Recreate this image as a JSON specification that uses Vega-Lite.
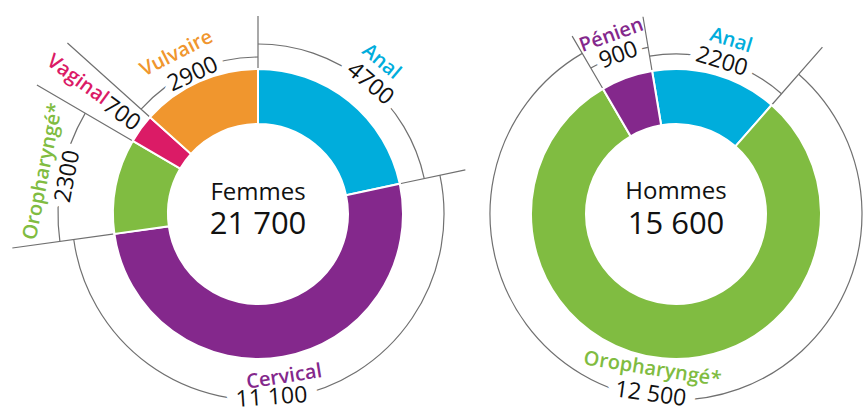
{
  "$schema": "https://vega.github.io/schema/vega-lite/v6.json",
  "padding": {"left": 8, "top": 13, "right": 0, "bottom": 0},
  "spacing": 0,
  "bounds": "flush",
  "config": {"view": {"stroke": null}, "font": "Open Sans", "text": {"font": "Open Sans"}},
  "datasets": {
    "femmes": [
      {"site": "Anal", "value": 4700, "label": "4700", "order": 1},
      {"site": "Cervical", "value": 11100, "label": "11 100", "order": 2},
      {"site": "Oropharyngé*", "value": 2300, "label": "2300", "order": 3},
      {"site": "Vaginal", "value": 700, "label": "700", "order": 4},
      {"site": "Vulvaire", "value": 2900, "label": "2900", "order": 5}
    ],
    "hommes": [
      {"site": "Anal", "value": 2200, "label": "2200", "order": 1},
      {"site": "Oropharyngé*", "value": 12500, "label": "12 500", "order": 2},
      {"site": "Pénien", "value": 900, "label": "900", "order": 3}
    ],
    "totaux": [
      {"groupe": "Femmes", "total": "21 700"},
      {"groupe": "Hommes", "total": "15 600"}
    ]
  },
  "resolve": {"scale": {"theta": "independent", "color": "independent"}},
  "hconcat": [
    {
      "width": 500,
      "height": 398,
      "data": {"name": "femmes"},
      "transform": [
        {"stack": "value", "groupby": [], "sort": [{"field": "order", "order": "ascending"}], "as": ["debut", "fin"]},
        {"fold": ["debut", "fin"], "as": ["bord", "pos"]},
        {"aggregate": [{"op": "min", "field": "pos", "as": "v0"}, {"op": "max", "field": "pos", "as": "v1"}, {"op": "mean", "field": "pos", "as": "mid"}], "groupby": ["site", "label", "order", "value"]}
      ],
      "layer": [
        {"transform": [{"filter": "datum.site === 'Anal'"}], "mark": {"type": "arc", "filled": false, "stroke": "#707070", "strokeWidth": 1.2, "radius": 170, "radius2": 170}, "encoding": {"theta": {"field": "v0", "type": "quantitative", "scale": {"domain": [0, 21700], "range": [0, 6.283185]}}, "theta2": {"field": "v1"}}},
        {"transform": [{"filter": "datum.site === 'Cervical'"}], "mark": {"type": "arc", "filled": false, "stroke": "#707070", "strokeWidth": 1.2, "radius": 186, "radius2": 186}, "encoding": {"theta": {"field": "v0", "type": "quantitative", "scale": {"domain": [0, 21700], "range": [0, 6.283185]}}, "theta2": {"field": "v1"}}},
        {"transform": [{"filter": "datum.site === 'Oropharyngé*'"}], "mark": {"type": "arc", "filled": false, "stroke": "#707070", "strokeWidth": 1.2, "radius": 200, "radius2": 200}, "encoding": {"theta": {"field": "v0", "type": "quantitative", "scale": {"domain": [0, 21700], "range": [0, 6.283185]}}, "theta2": {"field": "v1"}}},
        {"transform": [{"filter": "datum.site === 'Vulvaire'"}], "mark": {"type": "arc", "filled": false, "stroke": "#707070", "strokeWidth": 1.2, "radius": 157, "radius2": 157}, "encoding": {"theta": {"field": "v0", "type": "quantitative", "scale": {"domain": [0, 21700], "range": [0, 6.283185]}}, "theta2": {"field": "v1"}}},
        {"transform": [{"filter": "datum.site === 'Anal'"}], "mark": {"type": "arc", "filled": false, "stroke": "#707070", "strokeWidth": 1.2, "radius": 198, "radius2": 145}, "encoding": {"theta": {"field": "v0", "type": "quantitative", "scale": {"domain": [0, 21700], "range": [0, 6.283185]}}, "theta2": {"field": "v0"}}},
        {"transform": [{"filter": "datum.site === 'Cervical'"}], "mark": {"type": "arc", "filled": false, "stroke": "#707070", "strokeWidth": 1.2, "radius": 212, "radius2": 145}, "encoding": {"theta": {"field": "v0", "type": "quantitative", "scale": {"domain": [0, 21700], "range": [0, 6.283185]}}, "theta2": {"field": "v0"}}},
        {"transform": [{"filter": "datum.site === 'Oropharyngé*'"}], "mark": {"type": "arc", "filled": false, "stroke": "#707070", "strokeWidth": 1.2, "radius": 248, "radius2": 145}, "encoding": {"theta": {"field": "v0", "type": "quantitative", "scale": {"domain": [0, 21700], "range": [0, 6.283185]}}, "theta2": {"field": "v0"}}},
        {"transform": [{"filter": "datum.site === 'Vaginal' || datum.site === 'Vulvaire'"}], "mark": {"type": "arc", "filled": false, "stroke": "#707070", "strokeWidth": 1.2, "radius": 256, "radius2": 145}, "encoding": {"theta": {"field": "v0", "type": "quantitative", "scale": {"domain": [0, 21700], "range": [0, 6.283185]}}, "theta2": {"field": "v0"}}},
        {"transform": [{"filter": "datum.site === 'Anal'"}], "mark": {"type": "text", "radius": 172, "angle": 40, "thetaOffset": 0.03, "fontSize": 23, "color": "white", "stroke": "white", "strokeWidth": 15, "strokeJoin": "round", "align": "center", "baseline": "middle"}, "encoding": {"theta": {"field": "mid", "type": "quantitative", "scale": {"domain": [0, 21700], "range": [0, 6.283185]}}, "text": {"field": "label", "type": "nominal"}}},
        {"transform": [{"filter": "datum.site === 'Cervical'"}], "mark": {"type": "text", "radius": 184, "angle": -4, "thetaOffset": 0.1, "fontSize": 23, "color": "white", "stroke": "white", "strokeWidth": 22, "strokeJoin": "round", "align": "center", "baseline": "middle"}, "encoding": {"theta": {"field": "mid", "type": "quantitative", "scale": {"domain": [0, 21700], "range": [0, 6.283185]}}, "text": {"field": "label", "type": "nominal"}}},
        {"transform": [{"filter": "datum.site === 'Oropharyngé*'"}], "mark": {"type": "text", "radius": 194, "angle": -79, "fontSize": 23, "color": "white", "stroke": "white", "strokeWidth": 15, "strokeJoin": "round", "align": "center", "baseline": "middle"}, "encoding": {"theta": {"field": "mid", "type": "quantitative", "scale": {"domain": [0, 21700], "range": [0, 6.283185]}}, "text": {"field": "label", "type": "nominal"}}},
        {"transform": [{"filter": "datum.site === 'Vulvaire'"}], "mark": {"type": "text", "radius": 154, "angle": -25, "thetaOffset": -0.016, "fontSize": 23, "color": "white", "stroke": "white", "strokeWidth": 15, "strokeJoin": "round", "align": "center", "baseline": "middle"}, "encoding": {"theta": {"field": "mid", "type": "quantitative", "scale": {"domain": [0, 21700], "range": [0, 6.283185]}}, "text": {"field": "label", "type": "nominal"}}},
        {"mark": {"type": "arc", "radius": 145, "radius2": 90, "stroke": "white", "strokeWidth": 2}, "encoding": {"theta": {"field": "v0", "type": "quantitative", "scale": {"domain": [0, 21700], "range": [0, 6.283185]}}, "theta2": {"field": "v1"}, "color": {"field": "site", "type": "nominal", "legend": null, "scale": {"domain": ["Anal", "Cervical", "Oropharyngé*", "Vaginal", "Vulvaire"], "range": ["#00ADDC", "#84288C", "#80BC41", "#DB1B66", "#F0962E"]}}}},
        {"transform": [{"filter": "datum.site === 'Anal'"}], "mark": {"type": "text", "radius": 172, "angle": 40, "thetaOffset": 0.03, "fontSize": 23, "color": "#111111", "align": "center", "baseline": "middle"}, "encoding": {"theta": {"field": "mid", "type": "quantitative", "scale": {"domain": [0, 21700], "range": [0, 6.283185]}}, "text": {"field": "label", "type": "nominal"}}},
        {"transform": [{"filter": "datum.site === 'Cervical'"}], "mark": {"type": "text", "radius": 184, "angle": -4, "thetaOffset": 0.1, "fontSize": 23, "color": "#111111", "align": "center", "baseline": "middle"}, "encoding": {"theta": {"field": "mid", "type": "quantitative", "scale": {"domain": [0, 21700], "range": [0, 6.283185]}}, "text": {"field": "label", "type": "nominal"}}},
        {"transform": [{"filter": "datum.site === 'Oropharyngé*'"}], "mark": {"type": "text", "radius": 194, "angle": -79, "fontSize": 23, "color": "#111111", "align": "center", "baseline": "middle"}, "encoding": {"theta": {"field": "mid", "type": "quantitative", "scale": {"domain": [0, 21700], "range": [0, 6.283185]}}, "text": {"field": "label", "type": "nominal"}}},
        {"transform": [{"filter": "datum.site === 'Vaginal'"}], "mark": {"type": "text", "radius": 169, "angle": 36, "fontSize": 23, "color": "#111111", "align": "center", "baseline": "middle"}, "encoding": {"theta": {"field": "mid", "type": "quantitative", "scale": {"domain": [0, 21700], "range": [0, 6.283185]}}, "text": {"field": "label", "type": "nominal"}}},
        {"transform": [{"filter": "datum.site === 'Vulvaire'"}], "mark": {"type": "text", "radius": 154, "angle": -25, "thetaOffset": -0.016, "fontSize": 23, "color": "#111111", "align": "center", "baseline": "middle"}, "encoding": {"theta": {"field": "mid", "type": "quantitative", "scale": {"domain": [0, 21700], "range": [0, 6.283185]}}, "text": {"field": "label", "type": "nominal"}}},
        {"transform": [{"filter": "datum.site === 'Anal'"}], "mark": {"type": "text", "radius": 196, "angle": 40, "fontSize": 20, "fontWeight": 600, "color": "#00ADDC", "align": "center", "baseline": "middle"}, "encoding": {"theta": {"field": "mid", "type": "quantitative", "scale": {"domain": [0, 21700], "range": [0, 6.283185]}}, "text": {"field": "site", "type": "nominal"}}},
        {"transform": [{"filter": "datum.site === 'Cervical'"}], "mark": {"type": "text", "radius": 165, "angle": -9, "thetaOffset": 0.015, "fontSize": 20, "fontWeight": 600, "color": "#84288C", "align": "center", "baseline": "middle"}, "encoding": {"theta": {"field": "mid", "type": "quantitative", "scale": {"domain": [0, 21700], "range": [0, 6.283185]}}, "text": {"field": "site", "type": "nominal"}}},
        {"transform": [{"filter": "datum.site === 'Oropharyngé*'"}], "mark": {"type": "text", "radius": 219, "angle": -79, "fontSize": 20, "fontWeight": 600, "color": "#80BC41", "align": "center", "baseline": "middle"}, "encoding": {"theta": {"field": "mid", "type": "quantitative", "scale": {"domain": [0, 21700], "range": [0, 6.283185]}}, "text": {"field": "site", "type": "nominal"}}},
        {"transform": [{"filter": "datum.site === 'Vaginal'"}], "mark": {"type": "text", "radius": 225, "angle": 36, "thetaOffset": 0.01, "fontSize": 20, "fontWeight": 600, "color": "#DB1B66", "align": "center", "baseline": "middle"}, "encoding": {"theta": {"field": "mid", "type": "quantitative", "scale": {"domain": [0, 21700], "range": [0, 6.283185]}}, "text": {"field": "site", "type": "nominal"}}},
        {"transform": [{"filter": "datum.site === 'Vulvaire'"}], "mark": {"type": "text", "radius": 180, "angle": -27, "thetaOffset": -0.05, "fontSize": 20, "fontWeight": 600, "color": "#F0962E", "align": "center", "baseline": "middle"}, "encoding": {"theta": {"field": "mid", "type": "quantitative", "scale": {"domain": [0, 21700], "range": [0, 6.283185]}}, "text": {"field": "site", "type": "nominal"}}},
        {"data": {"name": "totaux"}, "transform": [{"filter": "datum.groupe === 'Femmes'"}], "mark": {"type": "text", "fontSize": 24, "dy": -14, "color": "#111111", "align": "center", "baseline": "alphabetic"}, "encoding": {"text": {"field": "groupe", "type": "nominal"}}},
        {"data": {"name": "totaux"}, "transform": [{"filter": "datum.groupe === 'Femmes'"}], "mark": {"type": "text", "fontSize": 31, "dy": 20, "color": "#111111", "align": "center", "baseline": "alphabetic"}, "encoding": {"text": {"field": "total", "type": "nominal"}}}
      ]
    },
    {
      "width": 336,
      "height": 398,
      "data": {"name": "hommes"},
      "transform": [
        {"stack": "value", "groupby": [], "sort": [{"field": "order", "order": "ascending"}], "as": ["debut", "fin"]},
        {"fold": ["debut", "fin"], "as": ["bord", "pos"]},
        {"aggregate": [{"op": "min", "field": "pos", "as": "v0"}, {"op": "max", "field": "pos", "as": "v1"}, {"op": "mean", "field": "pos", "as": "mid"}], "groupby": ["site", "label", "order", "value"]}
      ],
      "layer": [
        {"transform": [{"filter": "datum.site === 'Anal'"}], "mark": {"type": "arc", "filled": false, "stroke": "#707070", "strokeWidth": 1.2, "radius": 160, "radius2": 160}, "encoding": {"theta": {"field": "v0", "type": "quantitative", "scale": {"domain": [0, 15600], "range": [-0.1658, 6.117385]}}, "theta2": {"field": "v1"}}},
        {"transform": [{"filter": "datum.site === 'Oropharyngé*'"}], "mark": {"type": "arc", "filled": false, "stroke": "#707070", "strokeWidth": 1.2, "radius": 186, "radius2": 186}, "encoding": {"theta": {"field": "v0", "type": "quantitative", "scale": {"domain": [0, 15600], "range": [-0.1658, 6.117385]}}, "theta2": {"field": "v1"}}},
        {"transform": [{"filter": "datum.site === 'Pénien'"}], "mark": {"type": "arc", "filled": false, "stroke": "#707070", "strokeWidth": 1.2, "radius": 169, "radius2": 169}, "encoding": {"theta": {"field": "v0", "type": "quantitative", "scale": {"domain": [0, 15600], "range": [-0.1658, 6.117385]}}, "theta2": {"field": "v1"}}},
        {"transform": [{"filter": "datum.site === 'Anal'"}], "mark": {"type": "arc", "filled": false, "stroke": "#707070", "strokeWidth": 1.2, "radius": 200, "radius2": 145}, "encoding": {"theta": {"field": "v0", "type": "quantitative", "scale": {"domain": [0, 15600], "range": [-0.1658, 6.117385]}}, "theta2": {"field": "v0"}}},
        {"transform": [{"filter": "datum.site === 'Oropharyngé*'"}], "mark": {"type": "arc", "filled": false, "stroke": "#707070", "strokeWidth": 1.2, "radius": 222, "radius2": 145}, "encoding": {"theta": {"field": "v0", "type": "quantitative", "scale": {"domain": [0, 15600], "range": [-0.1658, 6.117385]}}, "theta2": {"field": "v0"}}},
        {"transform": [{"filter": "datum.site === 'Pénien'"}], "mark": {"type": "arc", "filled": false, "stroke": "#707070", "strokeWidth": 1.2, "radius": 206, "radius2": 145}, "encoding": {"theta": {"field": "v0", "type": "quantitative", "scale": {"domain": [0, 15600], "range": [-0.1658, 6.117385]}}, "theta2": {"field": "v0"}}},
        {"transform": [{"filter": "datum.site === 'Anal'"}], "mark": {"type": "text", "radius": 159, "angle": 17, "thetaOffset": 0.015, "fontSize": 23, "color": "white", "stroke": "white", "strokeWidth": 15, "strokeJoin": "round", "align": "center", "baseline": "middle"}, "encoding": {"theta": {"field": "mid", "type": "quantitative", "scale": {"domain": [0, 15600], "range": [-0.1658, 6.117385]}}, "text": {"field": "label", "type": "nominal"}}},
        {"transform": [{"filter": "datum.site === 'Oropharyngé*'"}], "mark": {"type": "text", "radius": 182, "angle": 8, "thetaOffset": 0.045, "fontSize": 23, "color": "white", "stroke": "white", "strokeWidth": 20, "strokeJoin": "round", "align": "center", "baseline": "middle"}, "encoding": {"theta": {"field": "mid", "type": "quantitative", "scale": {"domain": [0, 15600], "range": [-0.1658, 6.117385]}}, "text": {"field": "label", "type": "nominal"}}},
        {"transform": [{"filter": "datum.site === 'Pénien'"}], "mark": {"type": "text", "radius": 169, "angle": -20, "fontSize": 23, "color": "white", "stroke": "white", "strokeWidth": 12, "strokeJoin": "round", "align": "center", "baseline": "middle"}, "encoding": {"theta": {"field": "mid", "type": "quantitative", "scale": {"domain": [0, 15600], "range": [-0.1658, 6.117385]}}, "text": {"field": "label", "type": "nominal"}}},
        {"mark": {"type": "arc", "radius": 145, "radius2": 90, "stroke": "white", "strokeWidth": 2}, "encoding": {"theta": {"field": "v0", "type": "quantitative", "scale": {"domain": [0, 15600], "range": [-0.1658, 6.117385]}}, "theta2": {"field": "v1"}, "color": {"field": "site", "type": "nominal", "legend": null, "scale": {"domain": ["Anal", "Oropharyngé*", "Pénien"], "range": ["#00ADDC", "#80BC41", "#84288C"]}}}},
        {"transform": [{"filter": "datum.site === 'Anal'"}], "mark": {"type": "text", "radius": 159, "angle": 17, "thetaOffset": 0.015, "fontSize": 23, "color": "#111111", "align": "center", "baseline": "middle"}, "encoding": {"theta": {"field": "mid", "type": "quantitative", "scale": {"domain": [0, 15600], "range": [-0.1658, 6.117385]}}, "text": {"field": "label", "type": "nominal"}}},
        {"transform": [{"filter": "datum.site === 'Oropharyngé*'"}], "mark": {"type": "text", "radius": 182, "angle": 8, "thetaOffset": 0.045, "fontSize": 23, "color": "#111111", "align": "center", "baseline": "middle"}, "encoding": {"theta": {"field": "mid", "type": "quantitative", "scale": {"domain": [0, 15600], "range": [-0.1658, 6.117385]}}, "text": {"field": "label", "type": "nominal"}}},
        {"transform": [{"filter": "datum.site === 'Pénien'"}], "mark": {"type": "text", "radius": 169, "angle": -20, "fontSize": 23, "color": "#111111", "align": "center", "baseline": "middle"}, "encoding": {"theta": {"field": "mid", "type": "quantitative", "scale": {"domain": [0, 15600], "range": [-0.1658, 6.117385]}}, "text": {"field": "label", "type": "nominal"}}},
        {"transform": [{"filter": "datum.site === 'Anal'"}], "mark": {"type": "text", "radius": 182, "angle": 17, "thetaOffset": 0.03, "fontSize": 20, "fontWeight": 600, "color": "#00ADDC", "align": "center", "baseline": "middle"}, "encoding": {"theta": {"field": "mid", "type": "quantitative", "scale": {"domain": [0, 15600], "range": [-0.1658, 6.117385]}}, "text": {"field": "site", "type": "nominal"}}},
        {"transform": [{"filter": "datum.site === 'Oropharyngé*'"}], "mark": {"type": "text", "radius": 157, "angle": 9, "thetaOffset": 0.055, "fontSize": 20, "fontWeight": 600, "color": "#80BC41", "align": "center", "baseline": "middle"}, "encoding": {"theta": {"field": "mid", "type": "quantitative", "scale": {"domain": [0, 15600], "range": [-0.1658, 6.117385]}}, "text": {"field": "site", "type": "nominal"}}},
        {"transform": [{"filter": "datum.site === 'Pénien'"}], "mark": {"type": "text", "radius": 190, "angle": -20, "fontSize": 20, "fontWeight": 600, "color": "#84288C", "align": "center", "baseline": "middle"}, "encoding": {"theta": {"field": "mid", "type": "quantitative", "scale": {"domain": [0, 15600], "range": [-0.1658, 6.117385]}}, "text": {"field": "site", "type": "nominal"}}},
        {"data": {"name": "totaux"}, "transform": [{"filter": "datum.groupe === 'Hommes'"}], "mark": {"type": "text", "fontSize": 24, "dy": -15, "color": "#111111", "align": "center", "baseline": "alphabetic"}, "encoding": {"text": {"field": "groupe", "type": "nominal"}}},
        {"data": {"name": "totaux"}, "transform": [{"filter": "datum.groupe === 'Hommes'"}], "mark": {"type": "text", "fontSize": 31, "dy": 20, "color": "#111111", "align": "center", "baseline": "alphabetic"}, "encoding": {"text": {"field": "total", "type": "nominal"}}}
      ]
    }
  ]
}
